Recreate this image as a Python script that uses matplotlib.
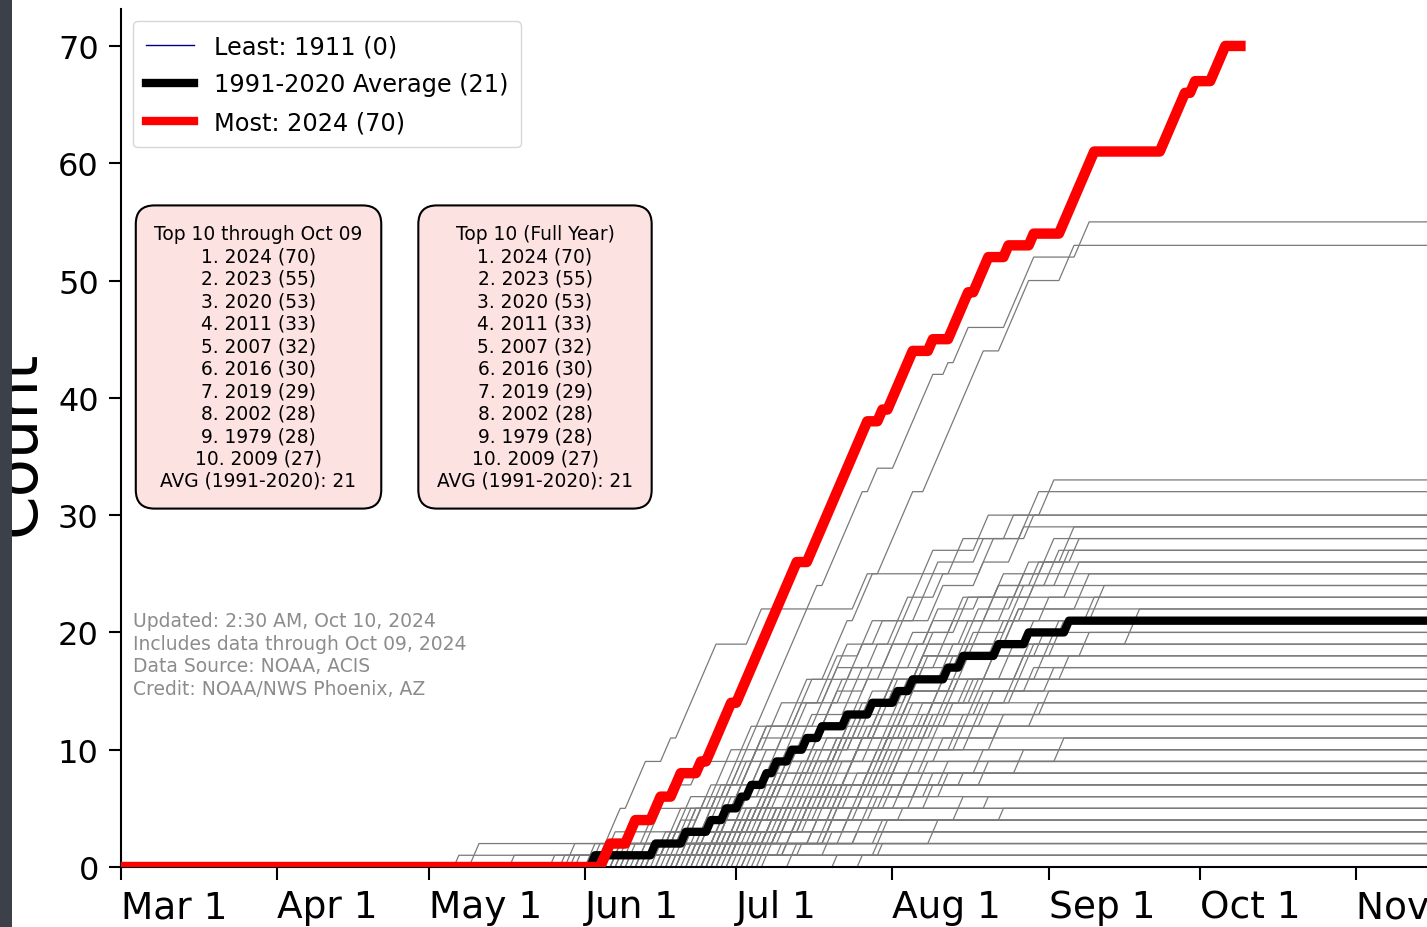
import numpy as np
import matplotlib.pyplot as plt
from matplotlib.lines import Line2D
from matplotlib.patches import Rectangle

# x axis: days counted from Mar 1 (day 0)
month_days = [0, 31, 61, 92, 122, 153, 184, 214, 245]
month_labels = ['Mar 1', 'Apr 1', 'May 1', 'Jun 1', 'Jul 1', 'Aug 1', 'Sep 1', 'Oct 1', 'Nov 1']
n_days = 280

# 2024 (record year): hot-day streaks as (first day, length), data through Oct 09
record_streaks = [(96, 2), (101, 2), (106, 2), (110, 2), (115, 1), (117, 5), (123, 12),
                  (137, 12), (151, 1), (153, 5), (161, 1), (165, 4), (170, 3), (176, 1),
                  (181, 1), (187, 7), (207, 5), (213, 1), (217, 3)]
record_last_day = 222

# 1991-2020 average (rounded): day on which each additional day is reached
avg_step_days = [94, 106, 112, 117, 120, 123, 125, 128, 130, 133, 136, 139, 144,
                 149, 154, 157, 164, 167, 174, 180, 188]

# all other years, streaks
gray_streaks = [
    [(103, 2), (110, 1), (116, 3), (121, 18), (140, 8), (149, 2), (154, 8), (164, 1), (166, 3), (176, 6), (190, 3)],  # 2023
    [(98, 1), (108, 2), (117, 4), (126, 3), (131, 6), (140, 5), (146, 4), (151, 7), (160, 12), (175, 6), (187, 3)],  # 2020
    [(95, 2), (104, 3), (118, 2), (124, 4), (133, 3), (140, 5), (150, 2), (156, 4), (165, 3), (176, 2), (183, 3)],  # 2011
    [(99, 1), (109, 3), (115, 2), (123, 6), (134, 2), (139, 4), (147, 3), (158, 5), (170, 2), (179, 4)],  # 2007
    [(93, 2), (97, 3), (101, 4), (108, 2), (111, 8), (125, 3), (146, 3), (160, 2), (170, 3)],  # 2016
    [(113, 2), (121, 3), (128, 4), (142, 2), (149, 5), (158, 3), (167, 2), (172, 3), (181, 2), (187, 3)],  # 2019
    [(96, 3), (106, 4), (114, 2), (126, 3), (138, 5), (149, 2), (160, 3), (170, 1), (178, 3), (189, 2)],  # 2002
    [(111, 2), (119, 5), (131, 3), (144, 4), (152, 6), (165, 3), (174, 2), (183, 3)],  # 1979
    [(104, 1), (117, 3), (127, 4), (137, 2), (145, 5), (157, 3), (168, 2), (176, 4), (186, 3)],  # 2009
    [(101, 2), (109, 3), (117, 5), (128, 4), (136, 2), (145, 3), (153, 4), (162, 2), (171, 3), (180, 2)],
    [(106, 3), (114, 4), (123, 2), (132, 5), (143, 3), (152, 4), (161, 3), (170, 2), (177, 3)],
    [(99, 2), (111, 3), (120, 4), (130, 2), (139, 5), (151, 3), (160, 2), (172, 3), (184, 3)],
    [(98, 2), (110, 4), (120, 6), (140, 3), (148, 2), (162, 4), (175, 2), (181, 3)],
    [(109, 2), (118, 4), (127, 3), (137, 5), (147, 2), (158, 4), (166, 3), (188, 3)],
    [(117, 3), (125, 2), (134, 4), (146, 3), (155, 5), (166, 2), (176, 3), (190, 3)],
    [(103, 3), (113, 2), (122, 5), (135, 3), (144, 4), (157, 2), (168, 3), (177, 3)],
    [(107, 2), (115, 4), (130, 3), (142, 5), (153, 2), (163, 3), (180, 2), (193, 3)],
    [(110, 1), (117, 3), (129, 4), (138, 3), (149, 5), (159, 2), (169, 3), (179, 3)],
    [(105, 1), (121, 3), (131, 5), (141, 2), (150, 4), (171, 3), (185, 3), (192, 2)],
    [(114, 3), (124, 2), (133, 4), (142, 3), (153, 4), (164, 2), (174, 3), (183, 2)],
    [(119, 2), (128, 3), (138, 4), (148, 2), (159, 3), (168, 2), (178, 3), (200, 3)],
    [(100, 1), (108, 2), (120, 3), (131, 4), (145, 3), (156, 2), (165, 4), (176, 3)],
    [(94, 2), (112, 3), (124, 4), (137, 2), (147, 3), (156, 4), (173, 3)],
    [(116, 2), (126, 3), (136, 2), (144, 4), (155, 3), (164, 2), (175, 3), (185, 2)],
    [(116, 1), (122, 4), (133, 3), (145, 2), (152, 5), (166, 3), (182, 2)],
    [(105, 2), (119, 3), (129, 2), (141, 4), (150, 2), (161, 3), (172, 2), (191, 2)],
    [(100, 2), (113, 3), (129, 2), (139, 4), (154, 3), (162, 2), (179, 3)],
    [(111, 2), (121, 3), (135, 4), (146, 2), (157, 3), (167, 2), (182, 3)],
    [(121, 3), (132, 2), (140, 4), (151, 3), (160, 2), (169, 2), (187, 2)],
    [(96, 1), (113, 2), (125, 4), (138, 2), (150, 3), (163, 4), (178, 2)],
    [(108, 1), (118, 3), (126, 2), (143, 4), (157, 3), (170, 2), (184, 2)],
    [(117, 2), (128, 3), (140, 2), (149, 4), (160, 2), (169, 2), (180, 2)],
    [(123, 2), (130, 3), (141, 2), (150, 4), (161, 3), (177, 2)],
    [(103, 1), (115, 3), (127, 2), (139, 4), (152, 2), (164, 2), (176, 2)],
    [(102, 1), (114, 2), (127, 4), (144, 3), (155, 2), (171, 3)],
    [(120, 2), (130, 3), (142, 2), (151, 3), (165, 3), (183, 2)],
    [(119, 3), (136, 2), (146, 4), (158, 3), (181, 2)],
    [(107, 2), (123, 3), (137, 2), (148, 3), (161, 2), (170, 2)],
    [(110, 2), (125, 3), (139, 2), (153, 4), (174, 2)],
    [(118, 1), (127, 3), (141, 4), (154, 2), (166, 3)],
    [(97, 1), (120, 3), (134, 2), (149, 4), (168, 2)],
    [(113, 2), (126, 2), (138, 3), (152, 3), (173, 2)],
    [(115, 2), (129, 3), (143, 2), (156, 2), (186, 2)],
    [(101, 1), (122, 3), (136, 2), (147, 3), (162, 2)],
    [(124, 3), (135, 2), (151, 3), (178, 2)],
    [(116, 2), (128, 3), (144, 3), (159, 2)],
    [(109, 1), (132, 3), (146, 2), (155, 2), (170, 2)],
    [(105, 2), (122, 3), (147, 2), (163, 2)],
    [(121, 2), (137, 3), (152, 2), (171, 2)],
    [(91, 1), (119, 2), (134, 3), (158, 3)],
    [(70, 2), (120, 1), (135, 3), (160, 2)],
    [(114, 2), (130, 2), (148, 3), (167, 1)],
    [(125, 3), (141, 3), (163, 2)],
    [(112, 2), (131, 3), (154, 2)],
    [(98, 1), (123, 2), (144, 2), (157, 2)],
    [(127, 2), (139, 3), (160, 2)],
    [(118, 2), (140, 3), (172, 1)],
    [(111, 1), (132, 3), (149, 2)],
    [(86, 1), (120, 1), (146, 2), (166, 2)],
    [(78, 1), (99, 1), (140, 2), (175, 1)],
    [(124, 2), (143, 3)],
    [(88, 1), (116, 1), (137, 2), (155, 1)],
    [(126, 2), (150, 2)],
    [(104, 1), (129, 2), (152, 1)],
    [(90, 1), (135, 1), (161, 2)],
    [(67, 1), (150, 2)],
    [(117, 1), (140, 2)],
    [(89, 2), (146, 1)],
    [(133, 2)],
    [(122, 1), (151, 1)],
    [(95, 1), (131, 1)],
    [(142, 1)],
    [(128, 1)],
    [(147, 1)],
]

top_years = [2024, 2023, 2020, 2011, 2007, 2016, 2019, 2002, 1979, 2009]
top_totals = [70, 55, 53, 33, 32, 30, 29, 28, 28, 27]
avg_total = 21
least_year, least_total = 1911, 0

days = np.arange(n_days)


def cumulative(streaks, last_day=n_days - 1):
    hot = np.zeros(n_days)
    for start, length in streaks:
        hot[start:start + length] = 1
    return days[:last_day + 1], np.cumsum(hot)[:last_day + 1]


fig = plt.figure(figsize=(14.27, 9.28), dpi=100)
ax = fig.add_axes([121 / 1427, 60 / 928, 1306 / 1427, 858 / 928])

for streaks in gray_streaks:
    x, y = cumulative(streaks)
    ax.plot(x, y, color='#7a7a7a', lw=0.9, zorder=2)

ax.plot(days, np.zeros(n_days), color='navy', lw=1.0, zorder=3)

avg_hot = np.zeros(n_days)
avg_hot[avg_step_days] = 1
ax.plot(days, np.cumsum(avg_hot), color='black', lw=6, zorder=4)

x, y = cumulative(record_streaks, record_last_day)
ax.plot(x, y, color='red', lw=7.5, zorder=5)

ax.set_xlim(0, 259)
ax.set_ylim(0, 73.15)
ax.set_xticks(month_days, month_labels, ha='left')
ax.set_yticks(np.arange(0, 71, 10))
ax.tick_params(axis='x', labelsize=27, length=9, width=1.5, pad=7)
ax.tick_params(axis='y', labelsize=23, length=9, width=1.5, pad=7)
for side in ['top', 'right']:
    ax.spines[side].set_visible(False)
for side in ['left', 'bottom']:
    ax.spines[side].set_linewidth(1.5)

handles = [Line2D([], [], color='navy', lw=1.0),
           Line2D([], [], color='black', lw=6),
           Line2D([], [], color='red', lw=6)]
labels = [f'Least: {least_year} ({least_total})',
          f'1991-2020 Average ({avg_total})',
          f'Most: {top_years[0]} ({top_totals[0]})']
ax.legend(handles, labels, loc='upper left', fontsize=17.3, labelspacing=0.58,
          borderpad=0.55)

ranks = '\n'.join(f'{i + 1}. {yr} ({tot})' for i, (yr, tot) in enumerate(zip(top_years, top_totals)))
box = dict(boxstyle='round,pad=1.0', facecolor='#fde2e2', edgecolor='black', lw=1.5)
ax.text(0.1053, 0.5944, 'Top 10 through Oct 09\n' + ranks + f'\nAVG (1991-2020): {avg_total}',
        transform=ax.transAxes, ha='center', va='center', multialignment='center',
        fontsize=13.4, linespacing=1.23, bbox=box, zorder=6)
ax.text(0.317, 0.5944, 'Top 10 (Full Year)\n' + ranks + f'\nAVG (1991-2020): {avg_total}',
        transform=ax.transAxes, ha='center', va='center', multialignment='center',
        fontsize=13.4, linespacing=1.23, bbox=box, zorder=6)

ax.text(0.0095, 0.298, 'Updated: 2:30 AM, Oct 10, 2024\nIncludes data through Oct 09, 2024\n'
        'Data Source: NOAA, ACIS\nCredit: NOAA/NWS Phoenix, AZ',
        transform=ax.transAxes, ha='left', va='top', fontsize=13.5, color='#8c8c8c',
        linespacing=1.23)

fig.text(35 / 1427, 1 - 443 / 928, 'Count', rotation=90, rotation_mode='anchor',
         ha='center', va='baseline', fontsize=45)

fig.add_artist(Rectangle((0, 0), 12 / 1427, 1, transform=fig.transFigure,
                         facecolor='#3b4049', edgecolor='none', zorder=10))

fig.savefig('out.png', dpi=100)
